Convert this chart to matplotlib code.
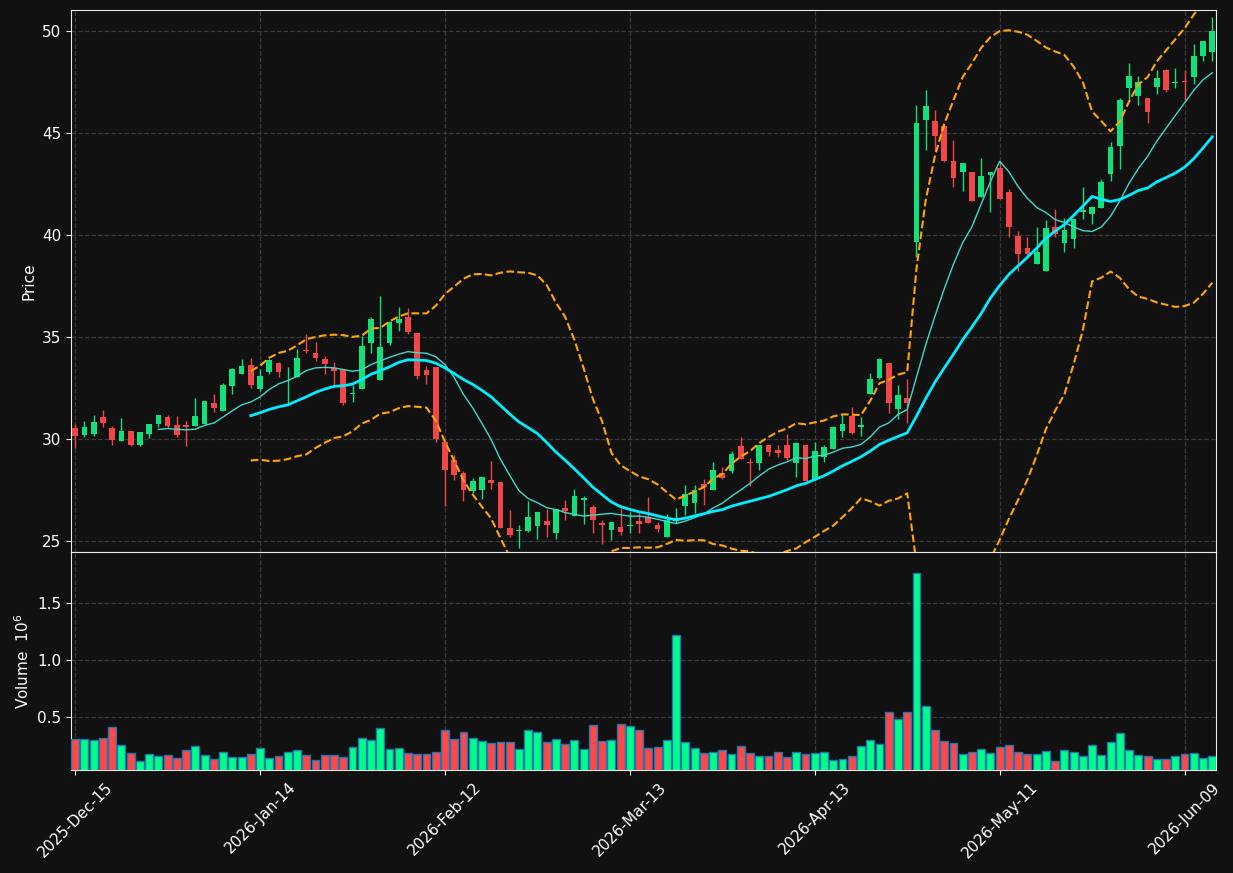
import matplotlib
matplotlib.use("Agg")
import matplotlib.pyplot as plt
import numpy as np
import pandas as pd

# daily OHLC (124 trading days, 2025-12-15 .. 2026-06-12)
opens = [30.54, 30.19, 30.26, 31.07, 30.54, 29.91, 30.39, 29.72, 30.26, 30.73,
         31.07, 30.68, 30.68, 30.63, 30.73, 31.76, 31.39, 32.61, 33.20, 33.62,
         32.45, 33.30, 33.72, 32.68, 33.05, 34.37, 34.21, 33.92, 33.49, 33.41,
         32.20, 32.46, 34.72, 32.90, 34.72, 35.70, 35.96, 35.20, 33.38, 33.51,
         29.85, 28.97, 28.35, 27.45, 27.50, 27.99, 27.89, 25.64, 25.47, 25.50,
         25.75, 25.99, 25.41, 26.62, 26.23, 27.00, 26.67, 25.88, 25.54, 25.69,
         25.72, 25.98, 26.19, 25.77, 25.21, 26.00, 26.72, 26.85, 27.79, 27.50,
         28.32, 28.43, 29.66, 28.87, 28.84, 29.70, 29.46, 29.69, 28.81, 29.70,
         27.99, 29.13, 29.51, 30.41, 31.13, 30.60, 32.19, 33.00, 33.72, 31.47,
         32.02, 39.65, 45.66, 45.61, 45.36, 43.65, 43.08, 43.11, 41.88, 42.93,
         43.29, 42.11, 39.97, 39.38, 38.58, 38.22, 40.41, 39.60, 39.79, 41.12,
         41.02, 41.31, 42.98, 44.35, 47.19, 46.83, 46.74, 47.24, 48.11, 47.44,
         47.52, 47.73, 48.79, 48.99]
highs = [30.73, 30.86, 31.16, 31.40, 30.63, 31.01, 30.39, 30.36, 30.73, 31.20,
         31.16, 31.12, 30.86, 32.01, 31.86, 32.19, 32.74, 33.48, 33.92, 33.95,
         33.43, 33.92, 33.77, 33.53, 34.39, 35.14, 34.74, 34.07, 33.79, 33.41,
         32.64, 35.05, 36.00, 37.01, 35.80, 36.45, 36.40, 35.20, 33.59, 33.51,
         29.85, 29.20, 28.43, 28.07, 28.14, 28.90, 27.89, 26.52, 25.78, 26.94,
         26.44, 26.55, 26.55, 26.99, 27.53, 27.20, 26.75, 26.03, 25.93, 26.60,
         26.44, 26.35, 27.14, 25.95, 26.32, 26.60, 27.75, 27.75, 28.02, 28.86,
         28.61, 29.43, 30.08, 29.05, 29.69, 29.70, 29.69, 30.23, 29.85, 29.70,
         29.85, 29.72, 30.64, 31.22, 31.55, 31.06, 33.24, 33.99, 33.72, 32.63,
         32.92, 46.39, 47.11, 46.15, 45.36, 44.66, 43.55, 43.11, 43.78, 43.11,
         43.65, 42.24, 40.18, 39.89, 40.41, 40.74, 41.28, 40.84, 40.81, 42.37,
         41.36, 42.73, 44.56, 46.70, 48.43, 47.81, 46.74, 48.09, 48.14, 48.19,
         48.09, 49.37, 49.53, 50.71]
lows = [29.54, 30.11, 30.15, 30.60, 29.72, 29.91, 29.67, 29.67, 30.03, 30.60,
        30.58, 30.11, 29.67, 30.63, 30.73, 31.30, 31.39, 32.22, 33.20, 32.52,
        32.34, 33.17, 33.05, 31.71, 33.05, 34.20, 33.80, 33.17, 32.64, 31.66,
        31.79, 32.46, 34.20, 32.90, 34.60, 35.31, 35.16, 32.92, 32.68, 29.84,
        26.71, 27.97, 26.98, 27.34, 27.04, 27.53, 25.64, 25.21, 24.64, 25.42,
        25.08, 25.18, 25.08, 26.05, 26.23, 25.82, 25.38, 24.85, 25.05, 25.28,
        25.38, 25.38, 25.90, 25.44, 25.21, 25.90, 26.27, 26.39, 26.77, 27.50,
        28.02, 28.35, 29.00, 27.71, 28.48, 29.18, 29.10, 28.97, 28.15, 27.93,
        27.99, 28.89, 29.51, 30.11, 30.23, 30.16, 32.19, 32.96, 31.26, 30.96,
        30.80, 38.91, 44.17, 44.14, 43.60, 42.34, 42.18, 41.66, 41.88, 41.12,
        41.75, 39.89, 38.26, 38.91, 38.58, 38.22, 39.89, 39.17, 39.37, 40.79,
        40.54, 41.31, 42.67, 43.24, 46.67, 46.38, 45.48, 46.92, 47.00, 47.19,
        46.59, 47.41, 48.55, 48.55]
closes = [30.16, 30.58, 30.83, 30.80, 29.96, 30.39, 29.70, 30.34, 30.73, 31.17,
          30.63, 30.19, 30.58, 31.12, 31.86, 31.52, 32.64, 33.43, 33.57, 32.64,
          33.08, 33.87, 33.30, 32.72, 33.97, 34.31, 33.98, 33.69, 33.33, 31.78,
          32.26, 34.56, 35.88, 34.51, 35.73, 35.88, 35.23, 33.09, 33.14, 30.02,
          28.48, 28.25, 27.50, 27.94, 28.14, 27.86, 25.64, 25.29, 25.55, 26.18,
          26.44, 25.80, 26.55, 26.49, 27.20, 27.10, 26.05, 25.80, 25.93, 25.46,
          25.78, 25.85, 25.90, 25.59, 26.03, 26.12, 27.29, 27.50, 27.66, 28.48,
          28.10, 29.27, 29.00, 28.82, 29.69, 29.38, 29.31, 29.07, 29.79, 27.93,
          29.41, 29.59, 30.57, 30.73, 30.29, 30.68, 32.94, 33.92, 31.78, 32.15,
          31.75, 45.51, 46.34, 44.84, 43.65, 42.78, 43.55, 41.69, 42.91, 43.11,
          41.75, 40.38, 39.07, 39.09, 39.19, 40.32, 40.05, 40.25, 40.81, 41.21,
          41.36, 42.60, 44.33, 46.64, 47.81, 47.52, 46.02, 47.70, 47.13, 47.52,
          47.49, 48.79, 49.53, 50.02]
# volume in millions
volumes = [0.308, 0.308, 0.299, 0.317, 0.413, 0.256, 0.189, 0.116, 0.177, 0.166,
           0.169, 0.142, 0.212, 0.247, 0.169, 0.133, 0.195, 0.151, 0.151, 0.177,
           0.229, 0.142, 0.160, 0.195, 0.212, 0.169, 0.125, 0.169, 0.169, 0.151,
           0.238, 0.317, 0.299, 0.404, 0.221, 0.229, 0.189, 0.177, 0.177, 0.195,
           0.387, 0.308, 0.369, 0.317, 0.291, 0.273, 0.282, 0.282, 0.221, 0.387,
           0.369, 0.282, 0.308, 0.264, 0.299, 0.221, 0.433, 0.291, 0.299, 0.439,
           0.421, 0.387, 0.229, 0.238, 0.299, 1.218, 0.282, 0.229, 0.186, 0.195,
           0.212, 0.177, 0.247, 0.186, 0.160, 0.160, 0.195, 0.151, 0.195, 0.177,
           0.186, 0.195, 0.125, 0.133, 0.160, 0.247, 0.299, 0.264, 0.544, 0.482,
           0.544, 1.759, 0.596, 0.387, 0.291, 0.273, 0.177, 0.195, 0.221, 0.186,
           0.238, 0.256, 0.195, 0.177, 0.177, 0.203, 0.116, 0.212, 0.195, 0.160,
           0.256, 0.169, 0.282, 0.360, 0.212, 0.169, 0.160, 0.133, 0.133, 0.160,
           0.177, 0.186, 0.142, 0.160]

tick_pos = [0, 20, 40, 60, 80, 100, 120]
tick_labels = ["2025-Dec-15", "2026-Jan-14", "2026-Feb-12", "2026-Mar-13",
               "2026-Apr-13", "2026-May-11", "2026-Jun-09"]

BG = "#111111"
UP = "#12e07a"
DOWN = "#f04646"
VUP = "#00ff88"
VDOWN = "#ff4848"

# moving averages and bollinger bands (20, 2)
close_s = pd.Series(closes)
mav10 = close_s.rolling(10).mean()
mav20 = close_s.rolling(20).mean()
std20 = close_s.rolling(20).std(ddof=0)
upper = mav20 + 2 * std20
lower = mav20 - 2 * std20

x = np.arange(len(closes))
o = np.array(opens)
c = np.array(closes)
up = c >= o

fig = plt.figure(figsize=(12.33, 8.73), dpi=100, facecolor=BG)
ax = fig.add_axes([0.0576, 0.3677, 0.9286, 0.6208], facecolor=BG)
axv = fig.add_axes([0.0576, 0.118, 0.9286, 0.2497], facecolor=BG, sharex=ax)

# candles
cols = np.where(up, UP, DOWN)
ax.vlines(x, lows, highs, colors=cols, linewidth=1, zorder=2)
body = np.maximum(np.abs(c - o), 0.04)
ax.bar(x, body, bottom=np.minimum(o, c), width=0.62, color=cols, zorder=3)

ax.plot(x, mav10, color="#40d8cc", linewidth=1, zorder=4)
ax.plot(x, mav20, color="#00eeff", linewidth=2, zorder=4)
ax.plot(x, upper, color="#ffa500", linestyle="--", linewidth=1.5, zorder=4)
ax.plot(x, lower, color="#ffa500", linestyle="--", linewidth=1.5, zorder=4)

# volume
vcols = np.where(up, VUP, VDOWN)
axv.bar(x, volumes, width=0.85, color=vcols, edgecolor="#1f77b4", linewidth=1, zorder=3)

ax.set_xlim(-0.45, 123.4)
ax.set_ylim(24.46, 51.03)
axv.set_ylim(0.04, 1.942)

ax.set_yticks([25, 30, 35, 40, 45, 50])
axv.set_yticks([0.5, 1.0, 1.5])
axv.set_xticks(tick_pos)
axv.set_xticklabels(tick_labels, rotation=45, ha="center")
plt.setp(ax.get_xticklabels(), visible=False)

ax.set_ylabel("Price", color="white", fontsize=11)
axv.set_ylabel("Volume  $10^{6}$", color="white", fontsize=11)

for a in (ax, axv):
    a.grid(True, color="#3a3a3a", linestyle="--", linewidth=0.9, zorder=0)
    a.set_axisbelow(True)
    a.tick_params(colors="white", labelsize=11)
    for s in a.spines.values():
        s.set_color("#e8e8e8")

fig.savefig("out.png", dpi=100, facecolor=BG)
